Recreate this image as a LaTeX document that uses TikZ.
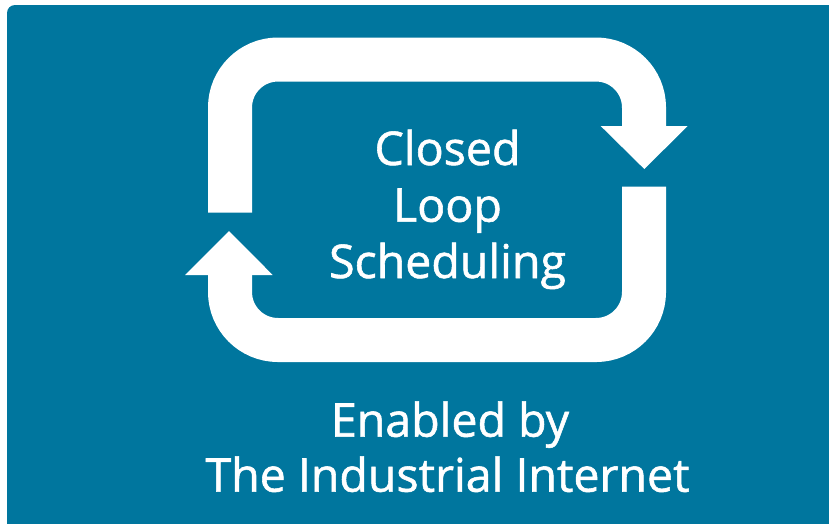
\documentclass[tikz,border=0pt]{standalone}
\usepackage{fontspec}
\setmainfont{Open Sans}
\newfontface\lblfont{Open Sans}[FakeBold=1.2]
\definecolor{bgblue}{HTML}{00769E}
\begin{document}
\begin{tikzpicture}[x=1pt,y=-1pt,
  band/.style={draw=white, line width=44pt, rounded corners=48pt},
  head/.style={fill=white, draw=none},
  label/.style={text=white, font=\lblfont\fontsize{46.5}{55}\selectfont, anchor=base, inner sep=0pt}]
\useasboundingbox (0,0) rectangle (829,523);
\fill[bgblue, rounded corners=8pt] (7,5) rectangle (850,545);
% upper band with arrow pointing down on the right
\coordinate (ts) at (230,212.7);
\coordinate (tl) at (230,59.5);
\coordinate (tr) at (644,59.5);
\coordinate (te) at (644,127);
\draw[band] (ts) -- (tl) -- (tr) -- (te);
\fill[head] (600.7,126) -- (687.7,126) -- (644.3,169) -- cycle;
% lower band with arrow pointing up on the left
\coordinate (bs) at (644,186.7);
\coordinate (br) at (644,340);
\coordinate (bl) at (230,340);
\coordinate (be) at (230,274);
\draw[band] (bs) -- (br) -- (bl) -- (be);
\fill[head] (185,275) -- (272.7,275) -- (229,231) -- cycle;
% texts
\node[label] (l1) at (447.5,165) {Closed};
\node[label] (l2) at (447.5,221.7) {Loop};
\node[label] (l3) at (447.5,278) {Scheduling};
\node[label] (l4) at (450,436.7) {Enabled by};
\node[label] (l5) at (447.5,491.7) {The Industrial Internet};
\end{tikzpicture}
\end{document}
